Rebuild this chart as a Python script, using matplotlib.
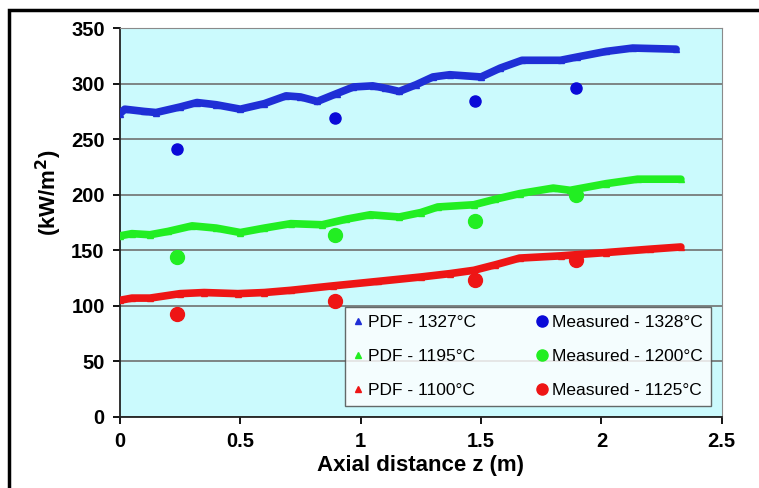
import numpy as np
import matplotlib
matplotlib.use('Agg')
import matplotlib.pyplot as plt
from matplotlib.lines import Line2D
from matplotlib.patches import Rectangle

plt.rcParams['font.family'] = ['Liberation Sans', 'DejaVu Sans']

# PDF predictions
z_1327 = [0.0, 0.02, 0.1, 0.15, 0.25, 0.32, 0.4, 0.5, 0.6, 0.69, 0.75, 0.82, 0.9, 0.97, 1.05,
          1.1, 1.16, 1.23, 1.30, 1.37, 1.50, 1.58, 1.67, 1.83, 1.90, 2.02, 2.13, 2.31]
q_1327 = [273, 277, 275, 274, 279, 283, 281, 277, 282, 289, 288, 284, 291, 297, 298,
          296, 293, 299, 306, 308, 306, 314, 321, 321, 324, 329, 332, 331]

z_1195 = [0.0, 0.05, 0.125, 0.2, 0.3, 0.4, 0.5, 0.6, 0.71, 0.84, 0.94, 1.04, 1.16, 1.25,
          1.32, 1.47, 1.56, 1.66, 1.8, 1.87, 2.02, 2.15, 2.33]
q_1195 = [163, 165, 164, 167, 172, 170, 166, 170, 174, 173, 178, 182, 180, 184,
          189, 191, 196, 201, 206, 204, 210, 214, 214]

z_1100 = [0.0, 0.05, 0.125, 0.25, 0.35, 0.49, 0.6, 0.71, 0.885, 1.07, 1.25, 1.37, 1.47,
          1.56, 1.66, 1.83, 2.02, 2.2, 2.33]
q_1100 = [105, 107, 107, 111, 112, 111, 112, 114, 118, 122, 126, 129, 132,
          137, 143, 145, 148, 151, 153]

# measurements
z_meas = [0.236, 0.893, 1.475, 1.894]
q_meas_1328 = [241, 269, 284, 296]
q_meas_1200 = [144, 164, 176, 200]
q_meas_1125 = [93, 104, 123, 141]

blue = '#1f2fd6'
green = '#22ee22'
red = '#ee1515'

fig = plt.figure(figsize=(7.59, 4.88), dpi=100)
ax = fig.add_axes([0.158, 0.1455, 0.793, 0.797])
ax.set_facecolor('#cbfafd')

for z, q, c in [(z_1327, q_1327, blue), (z_1195, q_1195, green), (z_1100, q_1100, red)]:
    ax.plot(z, q, color=c, lw=5.5, marker='^', ms=5, solid_capstyle='round',
            solid_joinstyle='round', zorder=3)

ax.plot(z_meas, q_meas_1328, 'o', color='#0a0ad8', ms=8, zorder=4)
ax.plot(z_meas, q_meas_1200, 'o', color=green, ms=10, zorder=4)
ax.plot(z_meas, q_meas_1125, 'o', color=red, ms=10, zorder=4)

ax.set_xlim(0, 2.5)
ax.set_ylim(0, 350)
ax.set_xticks([0, 0.5, 1, 1.5, 2, 2.5])
ax.set_xticklabels(['0', '0.5', '1', '1.5', '2', '2.5'])
ax.set_yticks(range(0, 351, 50))
ax.yaxis.grid(True, color='#707070', lw=1.2)
ax.set_axisbelow(True)

for s in ['top', 'right']:
    ax.spines[s].set_color('#8a8a8a')
for s in ['left', 'bottom']:
    ax.spines[s].set_color('#222222')
    ax.spines[s].set_linewidth(1.3)

ax.tick_params(direction='out', length=5, width=1.3, labelsize=14.5, pad=6)
for lbl in ax.get_xticklabels() + ax.get_yticklabels():
    lbl.set_fontweight('bold')

ax.set_xlabel('Axial distance z (m)', fontsize=16, fontweight='bold', labelpad=3)
ax.set_ylabel('(kW/m$^\\mathbf{2}$)', fontsize=16, fontweight='bold')
ax.yaxis.set_label_coords(-0.093, 0.578)

handles = [
    Line2D([], [], ls='none', marker='^', color=blue, ms=5),
    Line2D([], [], ls='none', marker='^', color=green, ms=5),
    Line2D([], [], ls='none', marker='^', color=red, ms=5),
    Line2D([], [], ls='none', marker='o', color='#0a0ad8', ms=8),
    Line2D([], [], ls='none', marker='o', color=green, ms=8),
    Line2D([], [], ls='none', marker='o', color=red, ms=8),
]
labels = ['PDF - 1327°C', 'PDF - 1195°C', 'PDF - 1100°C',
          'Measured - 1328°C', 'Measured - 1200°C', 'Measured - 1125°C']
leg = ax.legend(handles, labels, ncol=2, loc='lower right', bbox_to_anchor=(0.982, 0.028),
                fontsize=12.5, frameon=True, fancybox=False, edgecolor='#444444',
                handlelength=0.6, handletextpad=0.3, columnspacing=3.5,
                labelspacing=1.1, borderpad=0.45, borderaxespad=0)
leg.get_frame().set_linewidth(1.0)
leg.set_zorder(5)

fig.patches.append(Rectangle((9 / 759, -0.1), 1.2, 1.1 - 10 / 488, transform=fig.transFigure,
                             fill=False, lw=2.5, ec='black'))

fig.savefig('out.png', dpi=100)
